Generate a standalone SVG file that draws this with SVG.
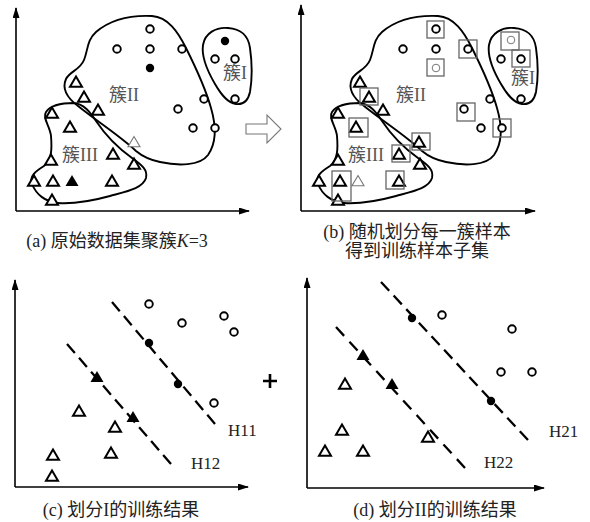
<svg xmlns="http://www.w3.org/2000/svg" xmlns:xlink="http://www.w3.org/1999/xlink" width="590" height="522" viewBox="0 0 590 522">
<style>
.ax{stroke:#000;stroke-width:1.6;fill:none}
.blob{fill:none;stroke:#000;stroke-width:1.9}
.box{fill:none;stroke:#666;stroke-width:1.3}
.dash{stroke:#000;stroke-width:2.3;stroke-dasharray:12 7;fill:none}
.lbl{font-family:"Liberation Serif","Noto Sans CJK SC",serif;font-size:18px;fill:#555}
.cap{font-family:"Liberation Serif","Noto Sans CJK SC",serif;font-size:18px;fill:#222;text-anchor:middle}
.h{font-family:"Liberation Serif",serif;font-size:17px;fill:#222}
</style>
<defs>
<marker id="arr" markerWidth="11" markerHeight="8" refX="10" refY="3.5" orient="auto" markerUnits="userSpaceOnUse">
<path d="M0,0 L11,3.5 L0,7 Z" fill="#000"/>
</marker>
<circle id="c" r="3.8" fill="#fff" stroke="#000" stroke-width="1.9"/>
<circle id="cf" r="4.2" fill="#000"/>
<circle id="cg" r="3.8" fill="#fff" stroke="#777" stroke-width="1"/>
<path id="t" d="M0,-5.5 L6,4.8 L-6,4.8 Z" fill="#fff" stroke="#000" stroke-width="2" stroke-linejoin="miter"/>
<path id="tf" d="M0,-6 L6.5,5 L-6.5,5 Z" fill="#000"/>
<path id="tg" d="M0,-5.5 L6,4.8 L-6,4.8 Z" fill="#fff" stroke="#777" stroke-width="1.1"/>
<path id="b2" d="M152,16 C168,17 178,32 186,48 C196,68 206,90 211,108 C216,125 217,142 208,155 C200,166 178,166 160,162 C150,160 142,156 136,151 C120,136 98,122 78,106 C66,97 62,88 66,79 C70,71 80,70 84,60 C88,50 87,40 96,32 C110,20 130,15 152,16 Z"/>
<path id="b3" d="M46,112 C50,106 60,103 74,103 C84,104 90,112 96,121 C104,133 118,148 132,158 C142,165 148,170 146,178 C143,188 128,191 110,196 C92,201 75,204 58,203 C45,202 36,194 32,184 C29,176 36,171 44,166 C52,160 52,148 51,136 C50,126 42,118 46,112 Z"/>
<path id="b1" d="M203,45 C205,33 216,27 228,28 C240,29 248,34 250,48 C252,62 252,80 250,92 C248,101 244,105 236,104 C228,103 222,96 215,84 C208,72 201,58 203,45 Z"/>
</defs>
<rect width="590" height="522" fill="#fff"/>

<g id="panel-a">
<path class="ax" d="M16,211 V8" marker-end="url(#arr)"/>
<path class="ax" d="M16,211 H249" marker-end="url(#arr)"/>
<use href="#b2" class="blob"/>
<use href="#b3" class="blob"/>
<use href="#b1" class="blob"/>
<use href="#c" x="150" y="29"/><use href="#c" x="117" y="49"/><use href="#c" x="150" y="49"/><use href="#c" x="182" y="49"/>
<use href="#c" x="204" y="99"/><use href="#c" x="178" y="109"/><use href="#c" x="193" y="128"/><use href="#c" x="215" y="128"/>
<use href="#c" x="215" y="59"/><use href="#c" x="235" y="59"/><use href="#c" x="235" y="99"/>
<use href="#cf" x="150" y="68"/><use href="#cf" x="225" y="41"/>
<use href="#t" x="76" y="82"/><use href="#t" x="84" y="97"/><use href="#t" x="98" y="110"/><use href="#t" x="52" y="113"/>
<use href="#t" x="70" y="127"/><use href="#t" x="113" y="154"/><use href="#t" x="51" y="160"/><use href="#t" x="134" y="164"/>
<use href="#t" x="34" y="181"/><use href="#t" x="53" y="181"/><use href="#t" x="112" y="181"/><use href="#t" x="52" y="200"/>
<use href="#tg" x="134" y="142"/>
<use href="#tf" x="72" y="181"/>
<text class="lbl" x="124" y="101" text-anchor="middle">簇II</text>
<text class="lbl" x="80" y="161" text-anchor="middle">簇III</text>
<text class="lbl" x="235" y="79" text-anchor="middle">簇I</text>
</g>

<g id="arrow-ab">
<path d="M246,124 H267 V115 L281,129 L267,143 V134 H246 Z" fill="#fff" stroke="#777" stroke-width="1.1"/>
</g>

<g id="panel-b">
<path class="ax" d="M301,211 V5" marker-end="url(#arr)"/>
<path class="ax" d="M301,211 H535" marker-end="url(#arr)"/>
<g transform="translate(286,0)">
<use href="#b2" class="blob"/>
<use href="#b3" class="blob"/>
<use href="#b1" class="blob"/>
</g>
<use href="#c" x="436" y="29"/><use href="#c" x="403" y="49"/><use href="#c" x="436" y="49"/><use href="#c" x="468" y="49"/>
<use href="#c" x="490" y="99"/><use href="#c" x="464" y="109"/><use href="#c" x="481" y="128"/><use href="#c" x="502" y="128"/>
<use href="#c" x="501" y="59"/><use href="#c" x="521" y="59"/><use href="#c" x="521" y="99"/>
<use href="#cg" x="436" y="68"/><use href="#cg" x="511" y="40"/>
<use href="#t" x="360" y="82"/><use href="#t" x="369" y="97"/><use href="#t" x="383" y="110"/><use href="#t" x="338" y="113"/>
<use href="#t" x="356" y="127"/><use href="#t" x="419" y="142"/><use href="#t" x="399" y="154"/><use href="#t" x="338" y="160"/>
<use href="#t" x="420" y="164"/><use href="#t" x="319" y="181"/><use href="#t" x="340" y="181"/><use href="#t" x="399" y="181"/>
<use href="#t" x="338" y="200"/>
<use href="#tg" x="358" y="181"/>
<rect class="box" x="427" y="21" width="17" height="17"/>
<rect class="box" x="427" y="59" width="17" height="17"/>
<rect class="box" x="459" y="40" width="18" height="18"/>
<rect class="box" x="501" y="32" width="18" height="18"/>
<rect class="box" x="512" y="50" width="18" height="17"/>
<rect class="box" x="457" y="103" width="18" height="18"/>
<rect class="box" x="493" y="119" width="18" height="18"/>
<rect class="box" x="360" y="88" width="18" height="17"/>
<rect class="box" x="349" y="118" width="19" height="19"/>
<rect class="box" x="412" y="133" width="18" height="17"/>
<rect class="box" x="392" y="145" width="18" height="17"/>
<rect class="box" x="386" y="171" width="18" height="18"/>
<rect class="box" x="332" y="171" width="19" height="30"/>
<text class="lbl" x="411" y="101" text-anchor="middle">簇II</text>
<text class="lbl" x="366" y="161" text-anchor="middle">簇III</text>
<text class="lbl" x="523" y="84" text-anchor="middle">簇I</text>
</g>

<g id="captions-top">
<text class="cap" x="117" y="247">(a) 原始数据集聚簇<tspan font-style="italic">K</tspan>=3</text>
<text class="cap" x="417" y="238">(b) 随机划分每一簇样本</text>
<text class="cap" x="417" y="257">得到训练样本子集</text>
</g>

<g id="panel-c">
<path class="ax" d="M15,487 V280" marker-end="url(#arr)"/>
<path class="ax" d="M15,487 H248" marker-end="url(#arr)"/>
<path class="dash" d="M112,302 L215,424" style="stroke-dasharray:12 6.46"/>
<path class="dash" d="M67,344 L171,464" style="stroke-dasharray:12 6.35"/>
<use href="#c" x="149" y="304"/><use href="#c" x="182" y="323"/><use href="#c" x="224" y="316"/><use href="#c" x="234" y="332"/><use href="#c" x="214" y="403"/>
<use href="#cf" x="149" y="343"/><use href="#cf" x="178" y="384"/>
<use href="#tf" x="97" y="377"/><use href="#tf" x="133" y="417"/>
<use href="#t" x="79" y="411"/><use href="#t" x="115" y="427"/><use href="#t" x="111" y="453"/><use href="#t" x="53" y="455"/><use href="#t" x="52" y="476"/>
<text class="h" x="228" y="436">H11</text>
<text class="h" x="191" y="469">H12</text>
<text class="cap" x="121" y="516">(c) 划分I的训练结果</text>
</g>

<g id="plus">
<path d="M263,381 H277 M270,374 V388" stroke="#000" stroke-width="2.6"/>
</g>

<g id="panel-d">
<path class="ax" d="M307,488 V278" marker-end="url(#arr)"/>
<path class="ax" d="M307,488 H544" marker-end="url(#arr)"/>
<path class="dash" d="M381,282 L528,440" style="stroke-dasharray:12 6.53"/>
<path class="dash" d="M336,327 L465,468" style="stroke-dasharray:12 7.9"/>
<use href="#c" x="442" y="315"/><use href="#c" x="512" y="329"/><use href="#c" x="501" y="372"/><use href="#c" x="532" y="372"/>
<use href="#cf" x="412" y="318"/><use href="#cf" x="491" y="401"/>
<use href="#tf" x="363" y="355"/><use href="#tf" x="392" y="384"/>
<use href="#t" x="345" y="384"/><use href="#t" x="342" y="430"/><use href="#t" x="325" y="451"/><use href="#t" x="363" y="451"/><use href="#t" x="428" y="437"/>
<text class="h" x="549" y="437">H21</text>
<text class="h" x="484" y="468">H22</text>
<text class="cap" x="435" y="516">(d) 划分II的训练结果</text>
</g>
</svg>
